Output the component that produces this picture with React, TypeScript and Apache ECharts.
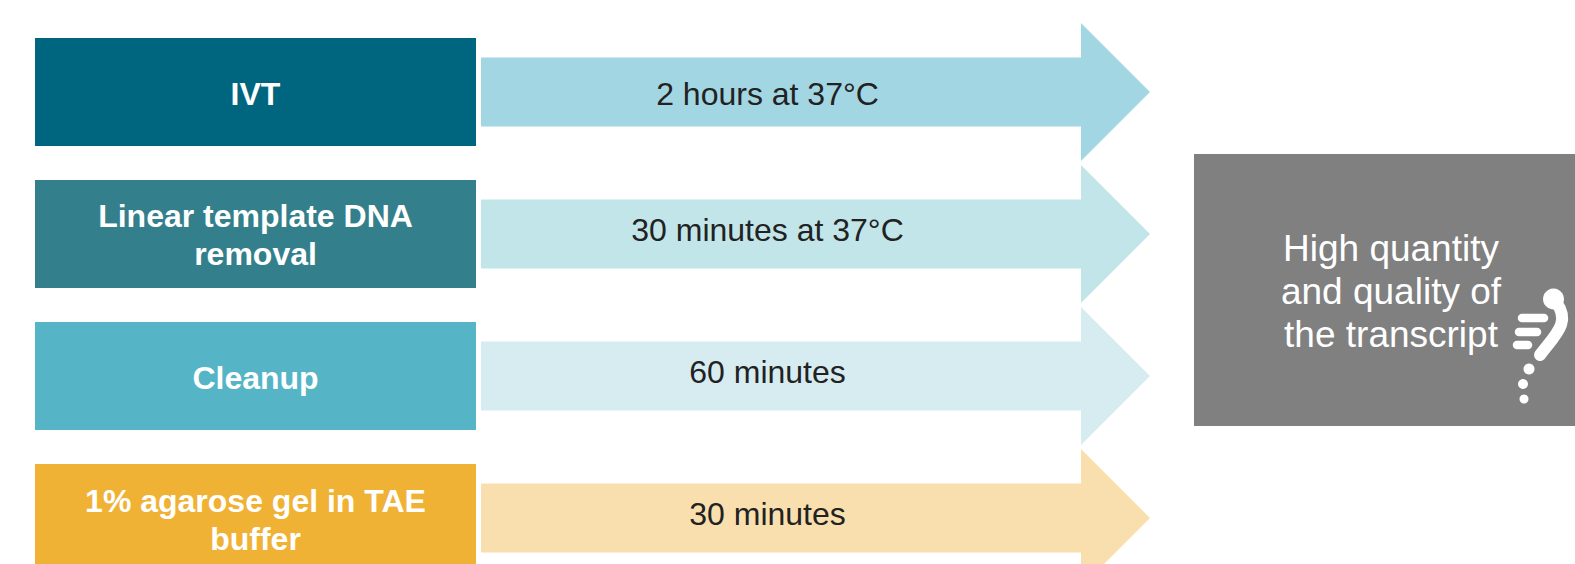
import React, { useEffect, useRef } from "react";
import * as echarts from "echarts";

// Workflow steps and the time each one takes
const stepLabels = ["IVT", "Linear template DNA\nremoval", "Cleanup", "1% agarose gel in TAE\nbuffer"];
const stepDurations = ["2 hours at 37°C", "30 minutes at 37°C", "60 minutes", "30 minutes"];
const stepColors = ["#006680", "#337f8c", "#55b4c5", "#f0b235"];
const arrowColors = ["#a2d6e3", "#c1e5e8", "#d7ecf1", "#f9dfae"];
const outcomeLabel = "High quantity\nand quality of\nthe transcript";

const FONT = '"Liberation Sans", Arial, sans-serif';
const ROW_PITCH = 142;
const BOX = { left: 35, top: 38, width: 441, height: 108 };
const ARROW = { left: 481, neck: 1081, tip: 1150, cy: 92, shaft: 34.5, head: 69 };
const durationOffsets = [2, -4, -4, -4];
const labelOffsets = [2, 1, 2, 2];

function stepGraphics() {
  const out: any[] = [];
  stepLabels.forEach((label, i) => {
    const dy = i * ROW_PITCH;
    const cy = ARROW.cy + dy;
    out.push({
      type: "polygon",
      shape: {
        points: [
          [ARROW.left, cy - ARROW.shaft],
          [ARROW.neck, cy - ARROW.shaft],
          [ARROW.neck, cy - ARROW.head],
          [ARROW.tip, cy],
          [ARROW.neck, cy + ARROW.head],
          [ARROW.neck, cy + ARROW.shaft],
          [ARROW.left, cy + ARROW.shaft],
        ],
      },
      style: { fill: arrowColors[i] },
    });
    out.push({
      type: "rect",
      shape: { x: BOX.left, y: BOX.top + dy, width: BOX.width, height: BOX.height },
      style: { fill: stepColors[i] },
    });
    out.push({
      type: "text",
      x: BOX.left + BOX.width / 2,
      y: BOX.top + dy + BOX.height / 2 + labelOffsets[i],
      style: {
        text: label,
        fill: "#ffffff",
        font: `bold 32px ${FONT}`,
        lineHeight: 38,
        align: "center",
        verticalAlign: "middle",
      },
    });
    out.push({
      type: "text",
      x: 767.5,
      y: cy + durationOffsets[i],
      style: {
        text: stepDurations[i],
        fill: "#222222",
        font: `32px ${FONT}`,
        align: "center",
        verticalAlign: "middle",
      },
    });
  });
  return out;
}

// Small white pipette-like glyph in the outcome box
function glyphGraphics() {
  const white = "#ffffff";
  const bar = (x1: number, x2: number, y: number) => ({
    type: "line",
    shape: { x1, y1: y, x2, y2: y },
    style: { stroke: white, lineWidth: 8.5, lineCap: "round" },
  });
  const dot = (cx: number, cy: number, r: number) => ({
    type: "circle",
    shape: { cx, cy, r },
    style: { fill: white },
  });
  return [
    dot(1553.5, 299, 10.5),
    {
      type: "bezierCurve",
      shape: { x1: 1556, y1: 302, cpx1: 1571, cpy1: 322, cpx2: 1556, cpy2: 334, x2: 1540, y2: 355 },
      style: { stroke: white, lineWidth: 12, lineCap: "round", fill: "none" },
    },
    bar(1522, 1544, 318),
    bar(1519, 1537, 332),
    bar(1517, 1528, 345),
    dot(1529, 369, 5.5),
    dot(1523, 384, 5),
    dot(1524, 399, 4.5),
  ];
}

export default function App() {
  const ref = useRef<HTMLDivElement>(null);
  useEffect(() => {
    document.body.style.margin = "0";
    const chart = echarts.init(ref.current!, undefined, { renderer: "svg" });
    chart.setOption({
      animation: false,
      backgroundColor: "#ffffff",
      graphic: {
        elements: [
          ...stepGraphics(),
          {
            type: "rect",
            shape: { x: 1194, y: 154, width: 381, height: 272 },
            style: { fill: "#808080" },
          },
          {
            type: "text",
            x: 1391,
            y: 291,
            style: {
              text: outcomeLabel,
              fill: "#ffffff",
              font: `37px ${FONT}`,
              lineHeight: 43,
              align: "center",
              verticalAlign: "middle",
            },
          },
          ...glyphGraphics(),
        ],
      },
    });
    return () => chart.dispose();
  }, []);
  return <div ref={ref} style={{ width: 1575, height: 564 }} />;
}
